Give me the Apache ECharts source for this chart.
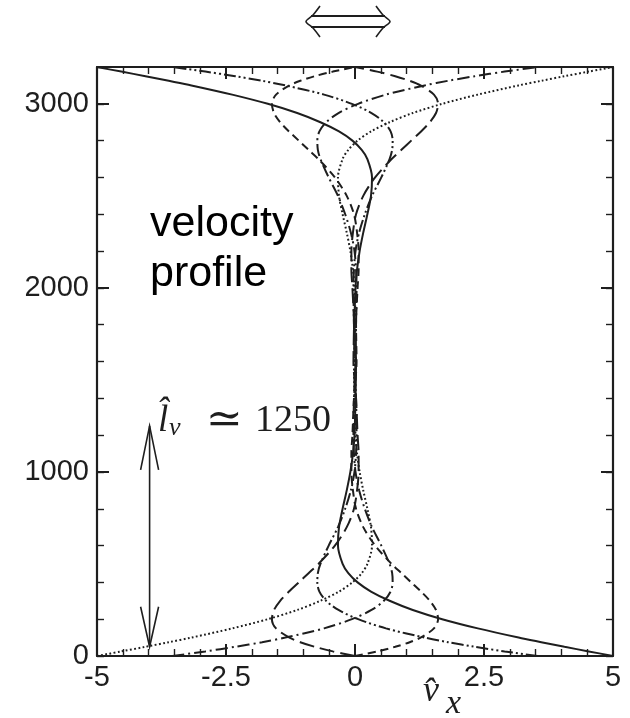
<!DOCTYPE html>
<html>
<head>
<meta charset="utf-8">
<script src="https://cdn.jsdelivr.net/npm/echarts@6/dist/echarts.min.js"></script>
<style>
html,body{margin:0;padding:0;background:#fff;}
#main{width:630px;height:718px;}
</style>
</head>
<body>
<div id="main"></div>
<script>
// heights shared by every profile (bottom wall 0, top wall 3200)
var yLevels = [0, 25, 50, 75, 100, 150, 200, 250, 300, 350, 400, 450, 500, 600, 700, 800, 900, 1000, 1100, 1200, 1400,
    1600,
    1800, 2000, 2100, 2200, 2300, 2400, 2500, 2600, 2700, 2750, 2800, 2850, 2900, 2950, 3000, 3050, 3100, 3125, 3150, 3175, 3200];

// velocity at those heights
var vSolid = [5.00, 4.53, 4.06, 3.61, 3.17, 2.38, 1.69, 1.12, 0.67, 0.31, 0.05, -0.13, -0.24, -0.33, -0.31, -0.24, -0.16, -0.09, -0.04, -0.01, 0.01,
    0.02,
    -0.01, 0.01, 0.04, 0.09, 0.16, 0.24, 0.31, 0.33, 0.24, 0.13, -0.05, -0.31, -0.67, -1.12, -1.69, -2.38, -3.17, -3.61, -4.06, -4.53, -5.00];
var vDotted = [-5.00, -4.53, -4.06, -3.61, -3.17, -2.38, -1.69, -1.12, -0.67, -0.31, -0.05, 0.13, 0.24, 0.33, 0.31, 0.24, 0.16, 0.09, 0.04, 0.01, -0.01,
    -0.02,
    0.01, -0.01, -0.04, -0.09, -0.16, -0.24, -0.31, -0.33, -0.24, -0.13, 0.05, 0.31, 0.67, 1.12, 1.69, 2.38, 3.17, 3.61, 4.06, 4.53, 5.00];
var vShortDash = [0, 0.43, 0.78, 1.06, 1.27, 1.53, 1.61, 1.57, 1.45, 1.28, 1.09, 0.90, 0.71, 0.39, 0.16, 0.02, -0.04, -0.07, -0.07, -0.05, -0.02,
    0.03,
    0.02, 0.05, 0.07, 0.07, 0.04, -0.02, -0.16, -0.39, -0.71, -0.90, -1.09, -1.28, -1.45, -1.57, -1.61, -1.53, -1.27, -1.06, -0.78, -0.43, 0];
var vLongDash = [0, -0.43, -0.78, -1.06, -1.27, -1.53, -1.61, -1.57, -1.45, -1.28, -1.09, -0.90, -0.71, -0.39, -0.16, -0.02, 0.04, 0.07, 0.07, 0.05, 0.02,
    -0.03,
    -0.02, -0.05, -0.07, -0.07, -0.04, 0.02, 0.16, 0.39, 0.71, 0.90, 1.09, 1.28, 1.45, 1.57, 1.61, 1.53, 1.27, 1.06, 0.78, 0.43, 0];
var vDashDot = [-3.54, -2.90, -2.32, -1.80, -1.35, -0.60, -0.06, 0.32, 0.56, 0.69, 0.73, 0.72, 0.67, 0.51, 0.33, 0.19, 0.08, 0.01, -0.02, -0.03, -0.02,
    0.01,
    0.02, 0.03, 0.02, -0.01, -0.08, -0.19, -0.33, -0.51, -0.67, -0.72, -0.73, -0.69, -0.56, -0.32, 0.06, 0.60, 1.35, 1.80, 2.32, 2.90, 3.54];
var vDashDotDot = [3.54, 2.90, 2.32, 1.80, 1.35, 0.60, 0.06, -0.32, -0.56, -0.69, -0.73, -0.72, -0.67, -0.51, -0.33, -0.19, -0.08, -0.01, 0.02, 0.03, 0.02,
    -0.01,
    -0.02, -0.03, -0.02, 0.01, 0.08, 0.19, 0.33, 0.51, 0.67, 0.72, 0.73, 0.69, 0.56, 0.32, -0.06, -0.60, -1.35, -1.80, -2.32, -2.90, -3.54];

// double arrow marking the viscous length
var arrowX = -4;
var arrowFrom = 50;
var arrowTo = 1250;

var ink = '#1e1e1e';
var sans = "'Liberation Sans', Arial, sans-serif";
var serif = "'Liberation Serif', 'DejaVu Serif', serif";

var chart = echarts.init(document.getElementById('main'));

function pairs(xs) {
    return xs.map(function (x, i) { return [x, yLevels[i]]; });
}

function profile(xs, dash) {
    return {
        type: 'line',
        data: pairs(xs),
        showSymbol: false,
        smooth: 0.3,
        silent: true,
        lineStyle: {color: ink, width: 2, type: dash, cap: 'butt'}
    };
}

function plain(v) { return String(v); }

function xAx(pos, labels) {
    return {
        type: 'value', position: pos, min: -5, max: 5, interval: 2.5,
        axisLine: {onZero: false, lineStyle: {color: ink, width: 2.2}},
        axisTick: {inside: true, length: 12, lineStyle: {color: ink, width: 2}},
        minorTick: {show: true, splitNumber: 5, length: 7, lineStyle: {color: ink, width: 1.4}},
        splitLine: {show: false},
        axisLabel: {show: labels, formatter: plain, fontFamily: sans, fontSize: 29, color: ink, margin: 7}
    };
}

function yAx(pos, step, len, labels, line) {
    return {
        type: 'value', position: pos, min: 0, max: 3200, interval: step,
        axisLine: {show: line, onZero: false, lineStyle: {color: ink, width: 2.2}},
        axisTick: {inside: true, length: len, lineStyle: {color: ink, width: step === 1000 ? 2 : 1.4}},
        splitLine: {show: false},
        axisLabel: {show: labels, showMaxLabel: false, formatter: plain, fontFamily: sans, fontSize: 29, color: ink, margin: 8}
    };
}

chart.setOption({
    animation: false,
    grid: {left: 97, right: 17, top: 67, bottom: 62},
    xAxis: [xAx('bottom', true), xAx('top', false)],
    yAxis: [
        yAx('left', 1000, 12, true, true),
        yAx('left', 200, 7, false, false),
        yAx('right', 1000, 12, false, true),
        yAx('right', 200, 7, false, false)
    ],
    series: [
        profile(vSolid, 'solid'),
        profile(vDotted, [1.8, 2.4]),
        profile(vShortDash, [8, 5]),
        profile(vLongDash, [15, 6]),
        profile(vDashDot, [12, 4, 2, 4]),
        profile(vDashDotDot, [12, 3, 2, 3, 2, 3])
    ]
});

var pTop = chart.convertToPixel({seriesIndex: 0}, [arrowX, arrowTo]);
var pBot = chart.convertToPixel({seriesIndex: 0}, [arrowX, arrowFrom]);
var ax = pTop[0] + 1;

chart.setOption({
    graphic: [
        // vertical arrow
        {type: 'line', shape: {x1: ax, y1: pTop[1], x2: ax, y2: pBot[1]}, style: {stroke: ink, lineWidth: 1.6}},
        {type: 'polyline', shape: {points: [[ax - 9, pTop[1] + 44], [ax, pTop[1]], [ax + 9, pTop[1] + 44]]}, style: {stroke: ink, lineWidth: 1.6, fill: null}},
        {type: 'polyline', shape: {points: [[ax - 9, pBot[1] - 40], [ax, pBot[1]], [ax + 9, pBot[1] - 40]]}, style: {stroke: ink, lineWidth: 1.6, fill: null}},
        // top double arrow
        {type: 'line', shape: {x1: 311, y1: 16, x2: 385, y2: 16}, style: {stroke: ink, lineWidth: 1.8}},
        {type: 'line', shape: {x1: 311, y1: 27, x2: 385, y2: 27}, style: {stroke: ink, lineWidth: 1.8}},
        {type: 'polyline', shape: {points: [[320, 6], [313, 15], [306, 21.5], [313, 28], [320, 37]], smooth: 0.3}, style: {stroke: ink, lineWidth: 1.6, fill: null}},
        {type: 'polyline', shape: {points: [[376, 6], [383, 15], [390, 21.5], [383, 28], [376, 37]], smooth: 0.3}, style: {stroke: ink, lineWidth: 1.6, fill: null}},
        // text
        {type: 'text', left: 150, top: 203, style: {text: 'velocity', font: '43px ' + sans, fill: '#000'}},
        {type: 'text', left: 150, top: 253, style: {text: 'profile', font: '43px ' + sans, fill: '#000'}},
        {type: 'text', x: 158, y: 421, style: {text: 'l\u0302', font: 'italic 37px ' + serif, fill: ink, verticalAlign: 'middle'}},
        {type: 'text', x: 169, y: 428, style: {text: '\u03bd', font: 'italic 26px ' + serif, fill: ink, verticalAlign: 'middle'}},
        {type: 'text', x: 206, y: 421, style: {text: '\u2243', font: '44px ' + serif, fill: ink, verticalAlign: 'middle'}},
        {type: 'text', x: 255, y: 421, style: {text: '1250', font: '38px ' + serif, fill: ink, verticalAlign: 'middle'}},
        {type: 'text', x: 423, y: 692, style: {text: 'v\u0302', font: 'italic 36px ' + serif, fill: ink, verticalAlign: 'middle'}},
        {type: 'text', x: 446, y: 704, style: {text: 'x', font: 'italic 34px ' + serif, fill: ink, verticalAlign: 'middle'}}
    ]
});
</script>
</body>
</html>
